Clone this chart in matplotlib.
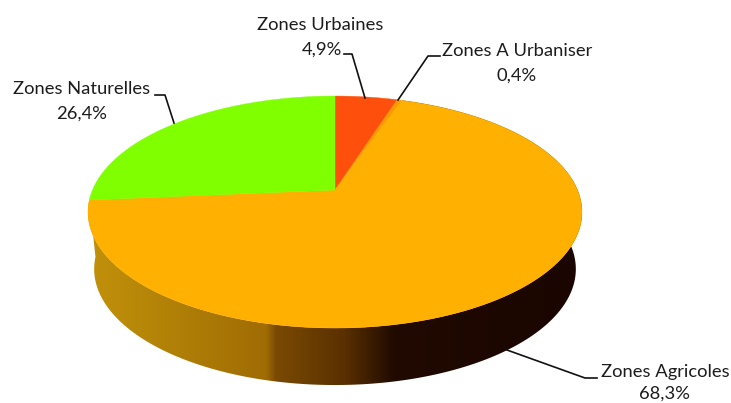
import numpy as np
import matplotlib
matplotlib.use("Agg")
import matplotlib.pyplot as plt
from matplotlib.colors import LinearSegmentedColormap
from matplotlib.patches import Polygon

# clockwise from the top of the pie
zones = ["Zones Urbaines", "Zones A Urbaniser", "Zones Agricoles", "Zones Naturelles"]
shares = [4.9, 0.4, 68.3, 26.4]
share_labels = ["4,9%", "0,4%", "68,3%", "26,4%"]
colors = ["#ff4f0c", "#ff9a00", "#ffb000", "#7fff00"]

# side shading, left to right
side_stops = [0.0, 0.12, 0.36, 0.38, 0.52, 0.62, 1.0]
side_colors = ["#c2900a", "#b58608", "#a06c04", "#7a4a04", "#5a3000", "#200a00", "#1a0500"]

label_pos = [(320, 25), (517, 51), (665, 372), (82, 89)]
value_pos = [(322, 50), (517, 76), (664, 394), (82, 114)]
leaders = [
    [(344, 54), (352, 54), (365, 98)],
    [(440, 56), (428, 56), (398, 100)],
    [(597, 378), (585, 378), (507, 350)],
    [(155, 95), (165, 95), (174, 123)],
]

plt.rcParams["font.family"] = ["Lato", "DejaVu Sans"]

cx, cy = 335, 190
a, b, k = 242.5, 111.8, 0.19
depth = 57
shrink = 0.975


def rim(t):
    # t in turns, perspective view of the disc
    u = np.sin(2 * np.pi * t)
    v = np.cos(2 * np.pi * t)
    d = 1 + k * v
    return np.column_stack([cx + a * u / d, cy - b * v / d])


fig = plt.figure(figsize=(7.31, 4.03), dpi=100)
ax = fig.add_axes([0, 0, 1, 1])
ax.axis("off")

edges = np.cumsum([0] + shares) / 100

# side of the big slice, lower rim a bit narrower
arc = rim(np.linspace(edges[2], edges[3], 300))
low = np.column_stack([cx + (arc[:, 0] - cx) * shrink, arc[:, 1] + depth])
side = np.vstack([arc, low[::-1]])
patch = Polygon(side, closed=True, fc="none", ec="none")
ax.add_patch(patch)
cmap = LinearSegmentedColormap.from_list("side", list(zip(side_stops, side_colors)))
grad = ax.imshow(np.linspace(0, 1, 512).reshape(1, -1), cmap=cmap, aspect="auto",
                 extent=[88, 582, 403, 0], vmin=0, vmax=1, zorder=1)
grad.set_clip_path(patch)
ax.set_xlim(0, 731)
ax.set_ylim(403, 0)

# top face
for i in range(len(shares)):
    pts = rim(np.linspace(edges[i], edges[i + 1], 200))
    ax.add_patch(Polygon(np.vstack([[cx, cy], pts]), closed=True, fc=colors[i],
                         ec=colors[i], lw=0.3, zorder=2))

for i in range(len(zones)):
    ax.text(*label_pos[i], zones[i], ha="center", va="center", fontsize=13.2,
            color="#1c1c1c", zorder=4)
    ax.text(*value_pos[i], share_labels[i], ha="center", va="center", fontsize=13.2,
            color="#1c1c1c", zorder=4)
    xs, ys = zip(*leaders[i])
    ax.plot(xs, ys, color="#111111", lw=1.2, zorder=3)

fig.savefig("out.png", dpi=100)
